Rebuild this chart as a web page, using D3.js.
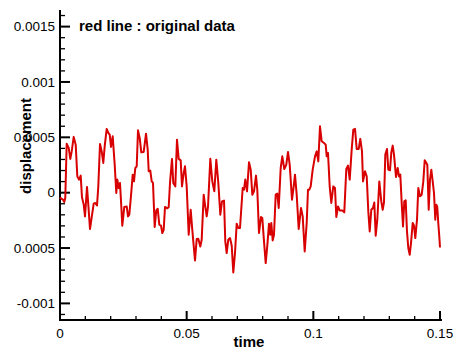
<!DOCTYPE html>
<html>
<head>
<meta charset="utf-8">
<script src="https://cdn.jsdelivr.net/npm/d3@7"></script>
<style>
  body { margin: 0; background: #fff; }
  text { font-family: "Liberation Sans", Arial, sans-serif; }
</style>
</head>
<body>
<svg id="chart" width="454" height="350"></svg>
<script>
// time in seconds
const time = [
  0, 0.00051, 0.00118, 0.0017, 0.00209, 0.00264, 0.00343, 0.00407, 0.00462, 0.00541,
  0.0062, 0.00683, 0.0075, 0.00817, 0.00868, 0.00936, 0.00987, 0.01066, 0.01117, 0.01184,
  0.01275, 0.0133, 0.01393, 0.01461, 0.01512, 0.01579, 0.01646, 0.01709, 0.01764, 0.01843,
  0.01907, 0.01962, 0.02013, 0.0208, 0.02159, 0.02222, 0.02262, 0.02317, 0.02368, 0.0242,
  0.02459, 0.02538, 0.02633, 0.02684, 0.02736, 0.02803, 0.0287, 0.02921, 0.02972, 0.03028,
  0.03079, 0.03146, 0.03209, 0.03304, 0.03395, 0.03462, 0.03501, 0.03564, 0.0362, 0.03671,
  0.03738, 0.03801, 0.03857, 0.0392, 0.03987, 0.04038, 0.04093, 0.04145, 0.04236, 0.04291,
  0.04342, 0.04421, 0.04472, 0.04551, 0.04618, 0.04685, 0.04764, 0.04816, 0.04883, 0.04934,
  0.05001, 0.0508, 0.05159, 0.05211, 0.05262, 0.05329, 0.05396, 0.05459, 0.05538, 0.05593,
  0.05672, 0.05736, 0.05791, 0.05842, 0.05933, 0.06012, 0.06091, 0.0617, 0.06249, 0.06328,
  0.06395, 0.06474, 0.06525, 0.0658, 0.06643, 0.06711, 0.06778, 0.06841, 0.06908, 0.06975,
  0.07038, 0.07105, 0.07212, 0.07263, 0.07314, 0.07382, 0.07461, 0.07528, 0.07591, 0.07658,
  0.07737, 0.07788, 0.07855, 0.07934, 0.07986, 0.08053, 0.0812, 0.08183, 0.0825, 0.08301,
  0.08341, 0.08396, 0.08447, 0.08514, 0.08578, 0.08633, 0.08712, 0.08775, 0.08854, 0.08933,
  0.09, 0.09067, 0.09158, 0.09225, 0.09276, 0.09343, 0.09422, 0.09513, 0.0958, 0.09659,
  0.09738, 0.09789, 0.09841, 0.09896, 0.09975, 0.10066, 0.10133, 0.10196, 0.10263, 0.1033,
  0.10421, 0.10488, 0.10528, 0.10579, 0.10646, 0.10709, 0.10788, 0.10855, 0.10907, 0.10974,
  0.11041, 0.11143, 0.11222, 0.11301, 0.11368, 0.11436, 0.11514, 0.11578, 0.11645, 0.11712,
  0.11791, 0.11854, 0.11921, 0.11961, 0.1204, 0.12107, 0.1217, 0.12225, 0.12288, 0.12355,
  0.12407, 0.12462, 0.12525, 0.12604, 0.12683, 0.12738, 0.12789, 0.12841, 0.12908, 0.12959,
  0.13026, 0.13078, 0.13133, 0.13184, 0.13263, 0.1333, 0.13382, 0.13433, 0.13488, 0.1354,
  0.13591, 0.13646, 0.13697, 0.13749, 0.13804, 0.13855, 0.13922, 0.13974, 0.14025, 0.14092,
  0.14143, 0.1421, 0.14278, 0.14341, 0.14396, 0.14459, 0.14499, 0.14554, 0.14605, 0.14657,
  0.14712, 0.14763, 0.14814, 0.14854, 0.14893, 0.14932, 0.14972, 0.15
];

// displacement in micro units (x 1e-6)
const dispMicro = [
  -45, -54, -63, -84, -45, 443, 404, 305, 373, 504,
  434, 147, 118, 154, -42, -108, -214, 52, -108, -328,
  -184, -99, -93, -115, 57, 440, 373, 269, 419, 576,
  540, 524, 413, 509, 253, -3, 118, 42, 88, -124,
  -298, -129, -124, -214, -199, -27, 163, 102, 223, 238,
  563, 495, 364, 368, 533, 389, 193, 199, 102, 88,
  -310, -160, -145, -289, -298, -364, -335, -129, -142, -129,
  88, 305, 88, 57, 479, 305, 292, 57, 178, 238,
  57, -380, -154, -305, -440, -612, -419, -416, -486, -425,
  -18, -129, -214, -129, 307, 102, 12, 298, 88, -199,
  -79, -72, -440, -545, -425, -410, -479, -721, -545, -280,
  -319, -319, 42, 27, 118, 12, 274, 208, -18, 12,
  154, 27, -364, -220, -229, -440, -636, -479, -280, -380,
  -274, -431, -380, -18, -9, -138, 223, 328, 214, 253,
  368, 253, -63, 57, 163, -18, -328, -138, -214, -531,
  -274, 27, 27, 57, 208, 328, 373, 283, 599, 464,
  449, 434, 328, 359, 57, -93, 57, 42, -220, -124,
  -160, -160, -178, 214, 244, 118, 389, 570, 576, 395,
  395, 486, 373, 102, 193, 147, -169, -350, -154, -138,
  -88, -389, -244, 102, -79, -154, -88, 344, 395, 208,
  202, 364, 425, 344, 142, 223, 147, 163, -93, -305,
  -79, -70, -350, -500, -561, -455, -274, -298, -410, -244,
  42, -33, -18, 102, 292, 269, 253, -154, 118, 208,
  102, -3, -244, -108, -129, -274, -395, -495
];
const displacement = dispMicro.map(d => d * 1e-6);

const xTicks = [0, 0.05, 0.1, 0.15];
const xTickLabels = ['0', '0.05', '0.1', '0.15'];
const yTicks = [-0.001, -0.0005, 0, 0.0005, 0.001, 0.0015];
const yTickLabels = ['-0.001', '0.0005', '0', '0.0005', '0.001', '0.0015'];

const svg = d3.select('#chart');

const x = d3.scaleLinear().domain([0, 0.15]).range([60, 440]);
const y = d3.scaleLinear().domain([-0.00115, 0.00165]).range([320, 10]);

// minor ticks
const xMinor = d3.range(0, 16).map(i => i * 0.01).filter(v => !xTicks.some(t => Math.abs(t - v) < 1e-9));
const yMinor = d3.range(-11, 17).map(i => i * 0.0001).filter(v => !yTicks.some(t => Math.abs(t - v) < 1e-9));

// x axis (ticks point up into the plot)
const xAxis = svg.append('g').attr('transform', 'translate(0,320)');
xAxis.append('line')
  .attr('x1', 59).attr('x2', 442).attr('y1', 0).attr('y2', 0)
  .attr('stroke', '#000').attr('stroke-width', 2);
xAxis.selectAll('.minor').data(xMinor).enter().append('line')
  .attr('x1', d => x(d)).attr('x2', d => x(d)).attr('y1', 0).attr('y2', -4)
  .attr('stroke', '#000').attr('stroke-width', 1.3);
xAxis.selectAll('.major').data(xTicks).enter().append('line')
  .attr('x1', d => x(d)).attr('x2', d => x(d)).attr('y1', 0).attr('y2', -9)
  .attr('stroke', '#000').attr('stroke-width', 2);
xAxis.selectAll('text').data(xTicks).enter().append('text')
  .attr('x', d => x(d)).attr('y', 18)
  .attr('text-anchor', 'middle').attr('font-size', 13.5)
  .text((d, i) => xTickLabels[i]);

// y axis (ticks point right into the plot)
const yAxis = svg.append('g').attr('transform', 'translate(60,0)');
yAxis.append('line')
  .attr('x1', 0).attr('x2', 0).attr('y1', 10).attr('y2', 321)
  .attr('stroke', '#000').attr('stroke-width', 2);
yAxis.selectAll('.minor').data(yMinor).enter().append('line')
  .attr('x1', 0).attr('x2', 5).attr('y1', d => y(d)).attr('y2', d => y(d))
  .attr('stroke', '#000').attr('stroke-width', 1.3);
yAxis.selectAll('.major').data(yTicks).enter().append('line')
  .attr('x1', 0).attr('x2', 10).attr('y1', d => y(d)).attr('y2', d => y(d))
  .attr('stroke', '#000').attr('stroke-width', 2);
yAxis.selectAll('text').data(yTicks).enter().append('text')
  .attr('x', -5).attr('y', d => y(d)).attr('dy', '0.35em')
  .attr('text-anchor', 'end').attr('font-size', 13.5)
  .text((d, i) => yTickLabels[i]);

// data line
const line = d3.line()
  .x((d, i) => x(time[i]))
  .y(d => y(d));
svg.append('path')
  .datum(displacement)
  .attr('d', line)
  .attr('fill', 'none')
  .attr('stroke', '#d80000')
  .attr('stroke-width', 2)
  .attr('stroke-linejoin', 'round');

// labels
svg.append('text')
  .attr('x', 249).attr('y', 347)
  .attr('text-anchor', 'middle')
  .attr('font-size', 15).attr('font-weight', 'bold')
  .text('time');

svg.append('text')
  .attr('transform', 'translate(31,146) rotate(-90)')
  .attr('text-anchor', 'middle')
  .attr('font-size', 15).attr('font-weight', 'bold')
  .text('displacement');

svg.append('text')
  .attr('x', 79).attr('y', 31)
  .attr('font-size', 15).attr('font-weight', 'bold')
  .text('red line : original data');
</script>
</body>
</html>
